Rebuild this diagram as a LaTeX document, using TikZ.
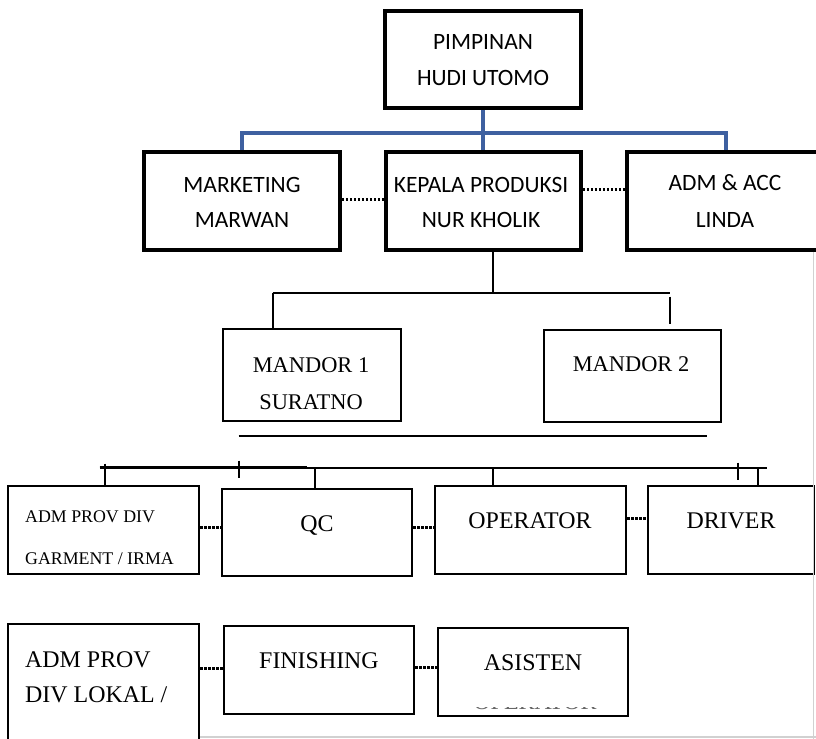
\documentclass[tikz,border=0pt]{standalone}
\usepackage{fontspec}
\setmainfont{Liberation Serif}
\newfontfamily\calibrifont{Carlito}
\usetikzlibrary{calc}
\definecolor{orgblue}{RGB}{62,96,160}
\begin{document}
\begin{tikzpicture}[x=1bp,y=-1bp,
  topbox/.style={draw,line width=3.8bp,inner sep=0pt,minimum height=97bp},
  lowbox/.style={draw,line width=2.6bp,inner sep=0pt,minimum height=88bp},
  toptxt/.style={font=\calibrifont\fontsize{23.5}{28}\selectfont,anchor=base,inner sep=0pt},
  sertxt/.style={font=\fontsize{24}{28}\selectfont,anchor=base,inner sep=0pt},
  mantxt/.style={font=\fontsize{22.5}{27}\selectfont,anchor=base,inner sep=0pt},
  smalltxt/.style={font=\fontsize{17.9}{21}\selectfont,anchor=base west,inner sep=0pt},
  blueline/.style={draw=orgblue,line width=4bp},
  conn/.style={draw,line width=2.3bp},
  dotline/.style={draw,line width=3bp,dash pattern=on 2.2bp off 1.8bp},
  shadowline/.style={draw=black!18,line width=1.2bp}]
\useasboundingbox (0,0) rectangle (816,739);
\fill[white] (0,0) rectangle (816,739);
\clip (0,0) rectangle (816,739);

% ---- top level
\node[topbox,minimum width=196bp] (pim) at (483,59.5) {};
\node[topbox,minimum width=196bp,minimum height=98bp] (mkt) at (242,201) {};
\node[topbox,minimum width=195bp,minimum height=98bp] (kep) at (483.5,201) {};
\node[topbox,minimum width=198bp,minimum height=98bp] (acc) at (726,201) {};

\node[toptxt] (tpim1) at (483,50) {PIMPINAN};
\node[toptxt] (tpim2) at (483,85) {HUDI UTOMO};
\node[toptxt] (tmkt1) at (242,192) {MARKETING};
\node[toptxt] (tmkt2) at (242,227) {MARWAN};
\node[toptxt] (tkep1) at (481,192) {KEPALA PRODUKSI};
\node[toptxt] (tkep2) at (481,227) {NUR KHOLIK};
\node[toptxt] (tacc1) at (725,190) {ADM \& ACC};
\node[toptxt] (tacc2) at (725,227) {LINDA};

\coordinate (bj) at ($(pim.south)+(0,23)$);
\draw[blueline] (mkt.north) |- (bj) -| (acc.north);
\draw[blueline] (pim.south) -- (bj);
\draw[blueline] (bj) -- (bj |- kep.north);

\draw[dotline] ($(mkt.east)+(0,-2)$) -- ($(kep.west)+(0,-2)$);
\draw[dotline] ($(kep.east)+(0,-12)$) -- ($(acc.west)+(0,-12)$);

% ---- mandor level
\node[lowbox,minimum width=178bp,minimum height=92bp] (m1) at (312,375) {};
\node[lowbox,minimum width=177bp,minimum height=92bp] (m2) at (632.5,376) {};
\node[mantxt] (tm1a) at (311,372) {MANDOR 1};
\node[mantxt] (tm1b) at (311,409) {SURATNO};
\node[mantxt] (tm2) at (631,371) {MANDOR 2};

\coordinate (kd) at ($(kep.south)+(9.5,0)$);
\coordinate (h1) at ($(m1.north west)+(51,-35)$);
\coordinate (h2) at ($(m2.north west)+(127,-36)$);
\draw[conn] (kd) -- (kd |- h1);
\draw[conn] (h1) -- (h2);
\draw[conn] (h1) -- (h1 |- m1.north);
\draw[conn] ($(h2)+(0,4)$) -- ($(h2 |- m2.north)+(0,-5)$);

\coordinate (l1) at ($(m1.south west)+(17,14)$);
\coordinate (l2) at ($(m2.south east)+(-15.5,13)$);
\draw[conn] (l1) -- (l2);

% ---- middle row
\node[lowbox,minimum width=191bp] (admd) at (103.5,530) {};
\node[lowbox,minimum width=190bp,minimum height=87bp] (qc) at (317,532.5) {};
\node[lowbox,minimum width=191bp] (op) at (530.5,530) {};
\node[lowbox,minimum width=166bp] (drv) at (731,530) {};

\node[smalltxt] (tadmd1) at (25,522) {ADM PROV DIV};
\node[smalltxt] (tadmd2) at (25,564) {GARMENT / IRMA};
\node[sertxt] (tqc) at (317,531) {QC};
\node[sertxt] (tope) at (530,528) {OPERATOR};
\node[sertxt] (tdrv) at (731,528) {DRIVER};

\coordinate (b1) at ($(admd.north west)+(93,-17)$);
\coordinate (b2) at ($(drv.north east)+(-48,-17)$);
\coordinate (b3) at ($(qc.north west)+(86,-20)$);
\draw[conn] (b1) -- (b2);
\draw[conn,line width=3.2bp] (b1) -- (b3);
\draw[conn] ($(b1)+(5,-4)$) -- ($(b1 |- admd.north)+(5,0)$);
\draw[conn] ($(b1)+(139,-7)$) -- ($(b1)+(139,10)$);
\draw[conn] ($(qc.north)+(-2,0)$) -- ($(qc.north |- b1)+(-2,0)$);
\draw[conn] ($(op.north west)+(59,0)$) -- ($(op.north west)+(59,-17)$);
\draw[conn] ($(drv.north west)+(91,-22)$) -- ($(drv.north west)+(91,-5)$);
\draw[conn] ($(drv.north west)+(111,-17)$) -- ($(drv.north west)+(111,0)$);

\draw[dotline] ($(admd.east)+(0,-3)$) -- ($(qc.west |- admd.east)+(0,-3)$);
\draw[dotline] ($(qc.east)+(0,-5.5)$) -- ($(op.west |- qc.east)+(0,-5.5)$);
\draw[dotline] ($(op.east)+(0,-12)$) -- ($(drv.west)+(0,-12)$);

% ---- bottom row
\node[lowbox,minimum width=191bp,minimum height=136bp] (adml) at (103.5,692) {};
\node[lowbox,minimum width=190bp] (fin) at (319,670) {};
\node[lowbox,minimum width=190bp] (asi) at (533,672) {};
\node[sertxt,anchor=base west] (tadml1) at (25,667) {ADM PROV};
\node[sertxt,anchor=base west] (tadml2) at (25,702) {DIV LOKAL /};
\node[sertxt] (tfin) at (319,668) {FINISHING};
\node[sertxt] (tasi) at (533,670) {ASISTEN};
\begin{scope}
  \clip (430,707.2) rectangle (640,709.5);
  \node[sertxt,text=black!60] (tasi2) at (535,709.5) {OPERATOR};
\end{scope}

\draw[dotline] ($(adml.east |- fin.west)+(0,-2)$) -- ($(fin.west)+(0,-2)$);
\draw[dotline] ($(fin.east)+(0,-3)$) -- ($(asi.west |- fin.east)+(0,-3)$);

% ---- faint page edge
\coordinate (s1) at ($(acc.south west)+(188,0)$);
\draw[shadowline] (s1) -- ++(0,490);
\coordinate (s2) at (200,737);
\coordinate (s3) at (816,737);
\draw[shadowline] (s2) -- (s3);
\end{tikzpicture}
\end{document}
